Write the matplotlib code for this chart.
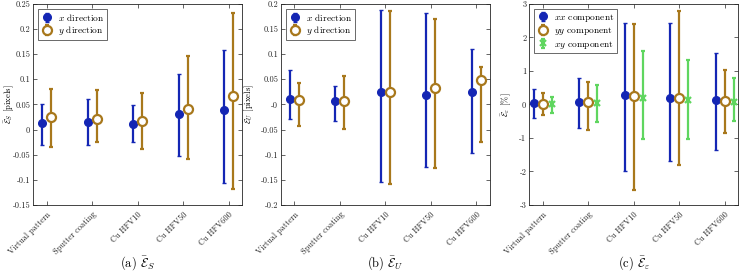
import matplotlib
matplotlib.use("Agg")
import matplotlib.pyplot as plt
import numpy as np

plt.rcParams['font.family'] = ['cmr10', 'DejaVu Serif']
plt.rcParams['mathtext.fontset'] = 'cm'
plt.rcParams['axes.unicode_minus'] = False
plt.rcParams['axes.formatter.use_mathtext'] = True

categories = ["Virtual pattern", "Sputter coating", "Cu HFV10", "Cu HFV50", "Cu HFV600"]

# Panel (a): E_S [pixels]
s_x_mean = [0.013, 0.014, 0.011, 0.030, 0.038]
s_x_low = [-0.031, -0.031, -0.025, -0.053, -0.107]
s_x_high = [0.050, 0.061, 0.048, 0.111, 0.159]
s_y_mean = [0.025, 0.021, 0.017, 0.040, 0.066]
s_y_low = [-0.035, -0.025, -0.039, -0.058, -0.118]
s_y_high = [0.081, 0.079, 0.072, 0.146, 0.232]

# Panel (b): E_U [pixels]
u_x_mean = [0.011, 0.006, 0.025, 0.019, 0.024]
u_x_low = [-0.030, -0.033, -0.155, -0.125, -0.096]
u_x_high = [0.068, 0.037, 0.187, 0.182, 0.110]
u_y_mean = [0.009, 0.007, 0.025, 0.033, 0.049]
u_y_low = [-0.042, -0.049, -0.159, -0.127, -0.075]
u_y_high = [0.043, 0.057, 0.185, 0.170, 0.075]

# Panel (c): E_eps [%]
e_xx_mean = [0.04, 0.08, 0.28, 0.18, 0.13]
e_xx_low = [-0.40, -0.70, -2.00, -1.68, -1.35]
e_xx_high = [0.45, 0.78, 2.44, 2.44, 1.53]
e_yy_mean = [0.02, 0.06, 0.25, 0.18, 0.11]
e_yy_low = [-0.32, -0.75, -2.55, -1.82, -0.85]
e_yy_high = [0.33, 0.68, 2.39, 2.80, 1.03]
e_xy_mean = [0.02, 0.05, 0.20, 0.13, 0.08]
e_xy_low = [-0.25, -0.53, -1.02, -1.02, -0.50]
e_xy_high = [0.23, 0.59, 1.58, 1.31, 0.79]

BLUE = "#1426b4"
ORANGE = "#a8781c"
GREEN = "#5fd65f"

fig = plt.figure(figsize=(7.39, 2.74), dpi=100)

bottom, height = 0.252, 0.734
w = 0.283
axes_pos = [0.0447, 0.380, 0.716]
axs = [fig.add_axes([l, bottom, w, height]) for l in axes_pos]

xpos = np.arange(1, len(categories) + 1)


def ebar(ax, off, mean, low, high, color, marker, label, mfc, ms, mew):
    mean = np.array(mean); low = np.array(low); high = np.array(high)
    yerr = np.vstack([mean - low, high - mean])
    ax.errorbar(xpos + off, mean, yerr=yerr, fmt=marker, color=color, ecolor=color,
                elinewidth=1.6, capsize=1.6, capthick=1.6, markersize=ms,
                markerfacecolor=mfc, markeredgecolor=color, markeredgewidth=mew,
                label=label, zorder=3)


def style(ax, yticks, ylim, ylabel, caption, labelx):
    ax.set_xlim(0.7, 5.3)
    ax.set_ylim(*ylim)
    ax.set_yticks(yticks)
    ax.set_yticklabels(["%g" % round(t, 4) for t in yticks])
    ax.set_xticks(xpos)
    ax.set_xticklabels(categories, rotation=45, ha='right', rotation_mode='anchor', fontsize=6.3)
    ax.tick_params(direction='in', top=True, right=True, length=3, width=0.5,
                   labelsize=6, colors='#262626')
    ax.tick_params(axis='y', pad=2)
    ax.tick_params(axis='x', pad=4)
    for sp in ax.spines.values():
        sp.set_linewidth(0.6)
        sp.set_color('#262626')
    ax.set_ylabel(ylabel, fontsize=6.3)
    ax.yaxis.set_label_coords(labelx, 0.5)
    pos = ax.get_position()
    fig.text(pos.x0 + pos.width / 2, 0.028, caption, ha='center', va='baseline', fontsize=9)


ax = axs[0]
ebar(ax, -0.1, s_x_mean, s_x_low, s_x_high, BLUE, 'o', '$x$ direction', BLUE, 5.5, 1.0)
ebar(ax, 0.1, s_y_mean, s_y_low, s_y_high, ORANGE, 'o', '$y$ direction', 'white', 6.5, 1.6)
style(ax, np.arange(-0.15, 0.2501, 0.05), (-0.15, 0.25), r'$\bar{\mathcal{E}}_S$ [pixels]',
      r'(a) $\bar{\mathcal{E}}_S$', -0.083)

ax = axs[1]
ebar(ax, -0.1, u_x_mean, u_x_low, u_x_high, BLUE, 'o', '$x$ direction', BLUE, 5.5, 1.0)
ebar(ax, 0.1, u_y_mean, u_y_low, u_y_high, ORANGE, 'o', '$y$ direction', 'white', 6.5, 1.6)
style(ax, np.arange(-0.2, 0.2001, 0.05), (-0.2, 0.2), r'$\bar{\mathcal{E}}_U$ [pixels]',
      r'(b) $\bar{\mathcal{E}}_U$', -0.12)

ax = axs[2]
ebar(ax, -0.2, e_xx_mean, e_xx_low, e_xx_high, BLUE, 'o', '$xx$ component', BLUE, 5.5, 1.0)
ebar(ax, 0.0, e_yy_mean, e_yy_low, e_yy_high, ORANGE, 'o', '$yy$ component', 'white', 6.5, 1.6)
ebar(ax, 0.2, e_xy_mean, e_xy_low, e_xy_high, GREEN, 'x', '$xy$ component', GREEN, 5, 1.6)
style(ax, np.arange(-3, 3.01, 1), (-3, 3), r'$\bar{\mathcal{E}}_\varepsilon$ [%]',
      r'(c) $\bar{\mathcal{E}}_\varepsilon$', -0.075)

for ax in axs:
    leg = ax.legend(loc='upper left', bbox_to_anchor=(0.025, 0.975), borderaxespad=0,
                    fontsize=6.8, frameon=True, fancybox=False, handlelength=1.2,
                    handletextpad=0.6, borderpad=0.3, labelspacing=0.15)
    leg.get_frame().set_edgecolor('#262626')
    leg.get_frame().set_linewidth(0.6)

fig.savefig("out.png", dpi=100)
